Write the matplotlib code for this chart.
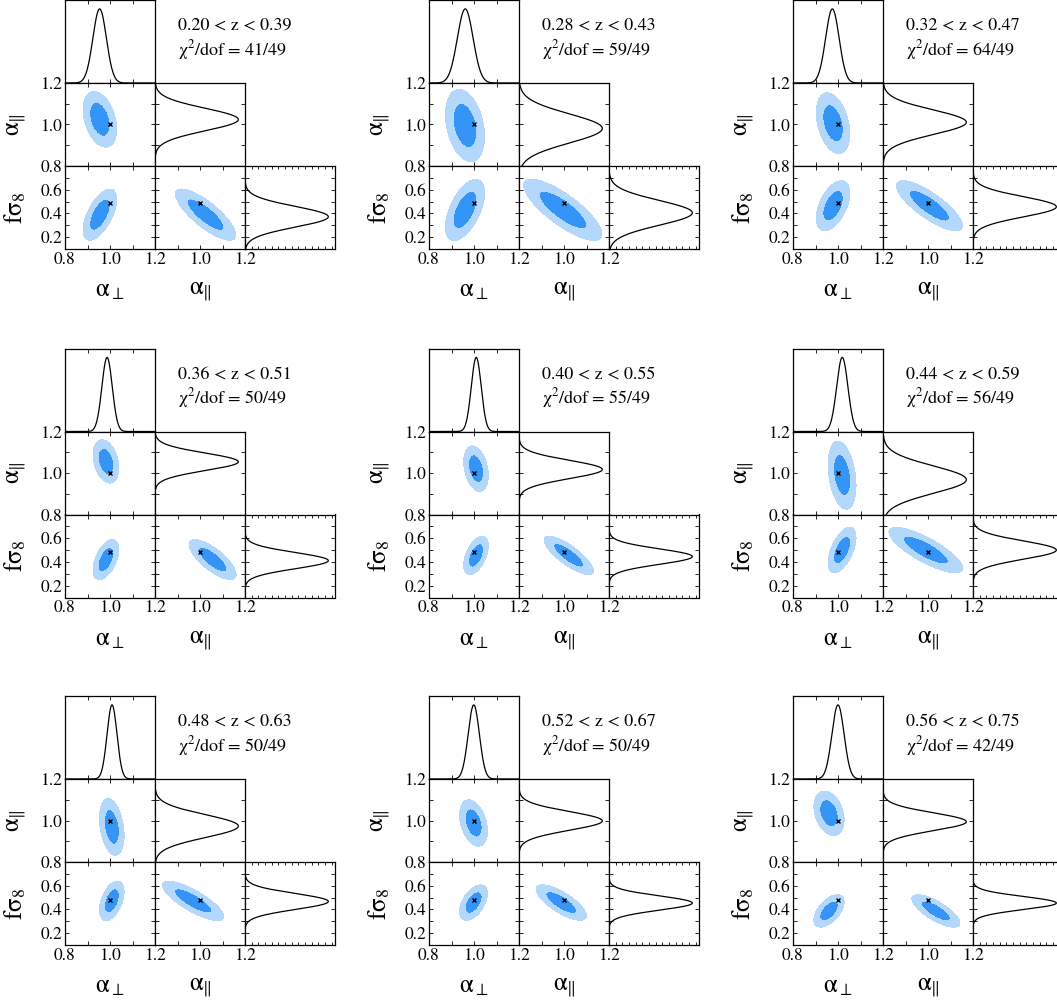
import numpy as np
import matplotlib
matplotlib.use("Agg")
import matplotlib.pyplot as plt

plt.rcParams["font.family"] = "STIXGeneral"
plt.rcParams["mathtext.fontset"] = "stix"

# one triangle per redshift bin, row-major order as in the figure
z_ranges = ["0.20 < z < 0.39", "0.28 < z < 0.43", "0.32 < z < 0.47",
            "0.36 < z < 0.51", "0.40 < z < 0.55", "0.44 < z < 0.59",
            "0.48 < z < 0.63", "0.52 < z < 0.67", "0.56 < z < 0.75"]
chi2 = [41, 59, 64, 50, 55, 56, 50, 50, 42]
dof = 49

# 2D contour centres / 1-sigma widths
mean_perp = [0.955, 0.960, 0.978, 0.982, 1.009, 1.018, 1.008, 0.998, 0.960]
sig_perp = [0.030, 0.035, 0.030, 0.023, 0.022, 0.025, 0.022, 0.025, 0.027]
mean_par = [1.025, 0.995, 1.006, 1.056, 1.021, 0.990, 0.969, 0.988, 1.035]
sig_par = [0.054, 0.070, 0.059, 0.042, 0.044, 0.066, 0.055, 0.045, 0.043]
mean_fs8 = [0.390, 0.430, 0.465, 0.420, 0.455, 0.500, 0.472, 0.458, 0.387]
sig_fs8 = [0.087, 0.104, 0.085, 0.068, 0.065, 0.077, 0.067, 0.060, 0.055]
rho_perp_par = [-0.35, -0.30, -0.35, -0.30, -0.30, -0.30, -0.30, -0.35, -0.30]
rho_perp_fs8 = [0.60, 0.55, 0.50, 0.50, 0.50, 0.55, 0.45, 0.50, 0.55]
rho_par_fs8 = [-0.80, -0.80, -0.80, -0.75, -0.80, -0.80, -0.80, -0.75, -0.75]

# peaks of the 1D marginals
peak_perp = [0.954, 0.961, 0.975, 0.987, 1.010, 1.019, 1.009, 0.999, 1.000]
peak_par = [1.024, 0.981, 1.011, 1.054, 1.017, 0.968, 0.973, 0.998, 0.994]
peak_fs8 = [0.372, 0.405, 0.456, 0.411, 0.445, 0.500, 0.467, 0.454, 0.454]

# fiducial values (crosses)
alpha_fid = 1.0
fs8_fid = [0.485, 0.485, 0.485, 0.482, 0.482, 0.482, 0.476, 0.476, 0.476]

LIGHT, DARK = "#b3d8fc", "#3595f6"
W, H = 1057, 1006
CW, RH = 90, 83
TX = [65, 429, 793]
TY = [0, 348.5, 696]
LVL = [0, 2.30, 6.17]

a_rng = (0.8, 1.2)
f_rng = (0.1, 0.8)
a_major, a_minor = [0.8, 1.0, 1.2], [0.9, 1.1]
f_major, f_minor = [0.2, 0.4, 0.6], [0.3, 0.5, 0.7]

fig = plt.figure(figsize=(W / 100, H / 100), dpi=100)


def add_ax(x, y):
    ax = fig.add_axes([x / W, 1 - (y + RH) / H, CW / W, RH / H])
    for s in ax.spines.values():
        s.set_linewidth(0.9)
    ax.tick_params(which="both", direction="in", top=True, right=True,
                   length=3, width=0.6, labelsize=12.5, pad=2)
    return ax


def set_axis(axis, major, minor, labels):
    axis.set_ticks(major)
    axis.set_ticks(minor, minor=True)
    axis.set_ticklabels(labels)


def gauss(x, mu, sig):
    return np.exp(-0.5 * ((x - mu) / sig) ** 2)


def contour(ax, mx, sx, my, sy, rho, xr, yr):
    X, Y = np.meshgrid(np.linspace(*xr, 300), np.linspace(*yr, 300))
    dx, dy = (X - mx) / sx, (Y - my) / sy
    c2 = (dx ** 2 - 2 * rho * dx * dy + dy ** 2) / (1 - rho ** 2)
    ax.contourf(X, Y, c2, levels=LVL, colors=[DARK, LIGHT])


a_lab = ["0.8", "1.0", "1.2"]
f_lab = ["0.2", "0.4", "0.6"]
none3 = ["", "", ""]
fx = lambda px: px / W
fy = lambda py: 1 - py / H

for i in range(9):
    tx, ty = TX[i % 3], TY[i // 3]
    aa = np.linspace(*a_rng, 400)
    ff = np.linspace(*f_rng, 400)

    # alpha_perp marginal
    ax = add_ax(tx, ty)
    ax.plot(aa, gauss(aa, peak_perp[i], sig_perp[i]), color="k", lw=0.9)
    ax.set_xlim(*a_rng), ax.set_ylim(0, 1.12)
    set_axis(ax.xaxis, a_major, a_minor, none3)
    ax.set_yticks([])

    # alpha_par vs alpha_perp
    ax = add_ax(tx, ty + RH)
    contour(ax, mean_perp[i], sig_perp[i], mean_par[i], sig_par[i],
            rho_perp_par[i], a_rng, a_rng)
    ax.plot(alpha_fid, alpha_fid, "x", color="k", ms=3.5, mew=1)
    ax.set_xlim(*a_rng), ax.set_ylim(*a_rng)
    set_axis(ax.xaxis, a_major, a_minor, none3)
    set_axis(ax.yaxis, a_major, a_minor, a_lab)

    # alpha_par marginal (horizontal)
    ax = add_ax(tx + CW, ty + RH)
    ax.plot(gauss(aa, peak_par[i], sig_par[i]), aa, color="k", lw=0.9)
    ax.set_xlim(0, 1.08), ax.set_ylim(*a_rng)
    ax.set_xticks([])
    set_axis(ax.yaxis, a_major, a_minor, none3)

    # fs8 vs alpha_perp
    ax = add_ax(tx, ty + 2 * RH)
    contour(ax, mean_perp[i], sig_perp[i], mean_fs8[i], sig_fs8[i],
            rho_perp_fs8[i], a_rng, f_rng)
    ax.plot(alpha_fid, fs8_fid[i], "x", color="k", ms=3.5, mew=1)
    ax.set_xlim(*a_rng), ax.set_ylim(*f_rng)
    set_axis(ax.xaxis, a_major, a_minor, a_lab)
    set_axis(ax.yaxis, f_major, f_minor, f_lab)

    # fs8 vs alpha_par
    ax = add_ax(tx + CW, ty + 2 * RH)
    contour(ax, mean_par[i], sig_par[i], mean_fs8[i], sig_fs8[i],
            rho_par_fs8[i], a_rng, f_rng)
    ax.plot(alpha_fid, fs8_fid[i], "x", color="k", ms=3.5, mew=1)
    ax.set_xlim(*a_rng), ax.set_ylim(*f_rng)
    set_axis(ax.xaxis, a_major, a_minor, ["", "1.0", "1.2"])
    set_axis(ax.yaxis, f_major, f_minor, none3)

    # fs8 marginal (horizontal)
    ax = add_ax(tx + 2 * CW, ty + 2 * RH)
    ax.plot(gauss(ff, peak_fs8[i], sig_fs8[i]), ff, color="k", lw=0.9)
    ax.set_xlim(0, 1.08), ax.set_ylim(*f_rng)
    ax.set_xticks(np.arange(0.08, 1.08, 0.08), minor=True)
    ax.set_xticks([])
    ax.tick_params(which="minor", axis="x", length=2)
    set_axis(ax.yaxis, f_major, f_minor, none3)

    # axis labels and bin annotation
    yb = ty + 3 * RH
    fig.text(fx(tx + CW / 2), fy(yb + 42), r"$\mathrm{\alpha}_{\perp}$",
             ha="center", va="center", fontsize=18)
    fig.text(fx(tx + 1.5 * CW), fy(yb + 42), r"$\mathrm{\alpha}_{\Vert}$",
             ha="center", va="center", fontsize=18)
    fig.text(fx(tx - 49), fy(ty + 1.5 * RH), r"$\mathrm{\alpha}_{\Vert}$",
             ha="center", va="center", fontsize=18, rotation=90)
    fig.text(fx(tx - 49), fy(ty + 2.5 * RH), r"$\mathrm{f\sigma}_{8}$",
             ha="center", va="center", fontsize=18, rotation=90)
    fig.text(fx(tx + CW + 23), fy(ty + 26), z_ranges[i],
             ha="left", va="center", fontsize=13)
    fig.text(fx(tx + CW + 23), fy(ty + 50),
             r"$\mathrm{\chi}^2$/dof = %d/%d" % (chi2[i], dof),
             ha="left", va="center", fontsize=13)

fig.savefig("out.png", dpi=100)
